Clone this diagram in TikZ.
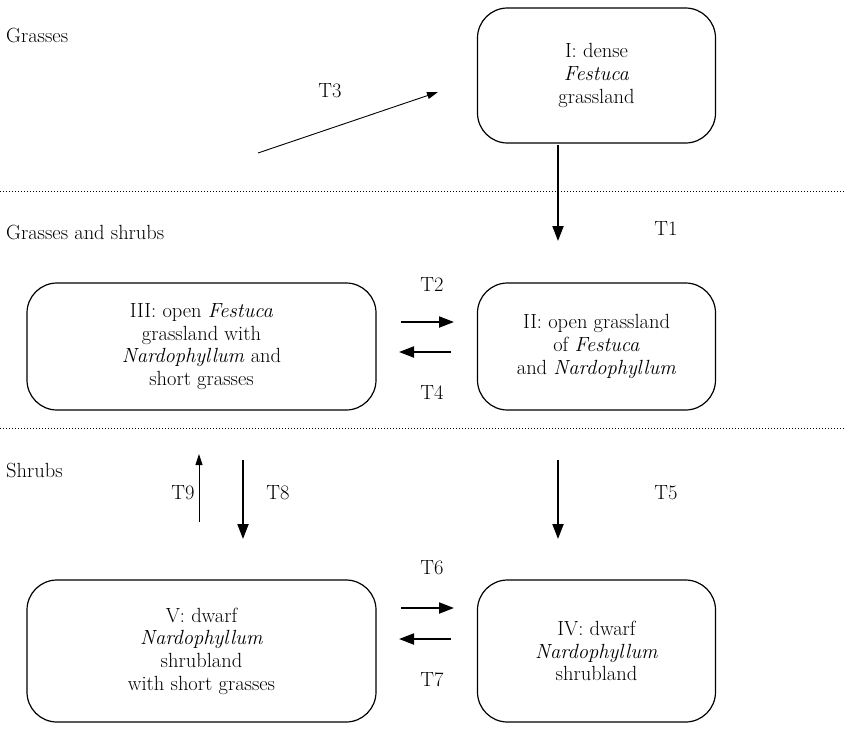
\documentclass[tikz,border=0pt]{standalone}
\usetikzlibrary{arrows.meta}
\begin{document}
\begin{tikzpicture}[x=1pt,y=-1pt,
  every node/.style={font=\fontsize{20.5}{22.6}\selectfont, inner sep=0pt},
  box/.style={draw, line width=1.2pt, rounded corners=30pt, align=center, minimum width=#1},
  thickarr/.style={line width=2pt, -{Triangle[length=15pt,width=11pt]}},
  thinarr/.style={line width=0.9pt, -{Triangle[length=11pt,width=7pt]}},
  sep/.style={dotted, line width=1pt}]
\useasboundingbox (0,0) rectangle (845,734);
% boxes
\node[box=238pt, minimum height=135pt] (I) at (596.5,75.5) {I: dense\\ \textit{Festuca}\\ grassland};
\node[box=349pt, minimum height=127pt] (III) at (201.5,346.5) {III: open \textit{Festuca}\\ grassland with\\ \textit{Nardophyllum} and\\ short grasses};
\node[box=238pt, minimum height=127pt] (II) at (596.5,346.5) {II: open grassland\\ of \textit{Festuca}\\ and \textit{Nardophyllum}};
\node[box=349pt, minimum height=142pt] (V) at (201.5,651) {V: dwarf\\ \textit{Nardophyllum}\\ shrubland\\ with short grasses};
\node[box=238pt, minimum height=142pt] (IV) at (596.5,651) {IV: dwarf\\ \textit{Nardophyllum}\\ shrubland};
% separators
\coordinate (s1l) at (0,191); \coordinate (s1r) at (845,191);
\coordinate (s2l) at (0,428); \coordinate (s2r) at (845,428);
\draw[sep] (s1l) -- (s1r);
\draw[sep] (s2l) -- (s2r);
% zone labels
\node[anchor=west] (g) at (6,35) {Grasses};
\node[anchor=west] (gs) at (6,232) {Grasses and shrubs};
\node[anchor=west] (s) at (6,470) {Shrubs};
% T3
\coordinate (t3a) at (258,153); \coordinate (t3b) at (438,92);
\draw[thinarr] (t3a) -- (t3b);
\node (T3) at (330,91) {T3};
% T1
\coordinate (t1a) at (558,145); \coordinate (t1b) at (558,241);
\draw[thickarr] (t1a) -- (t1b);
\node (T1) at (666,229) {T1};
% T2 / T4
\coordinate (t2a) at (401,322); \coordinate (t2b) at (454,322);
\coordinate (t4a) at (451,352); \coordinate (t4b) at (399,352);
\draw[thickarr] (t2a) -- (t2b);
\draw[thickarr] (t4a) -- (t4b);
\node (T2) at (432,285) {T2};
\node (T4) at (432,393) {T4};
% T9 / T8
\coordinate (t9a) at (199,522); \coordinate (t9b) at (199,454);
\draw[thinarr] (t9a) -- (t9b);
\node (T9) at (183,493) {T9};
\coordinate (t8a) at (243,460); \coordinate (t8b) at (243,539);
\draw[thickarr] (t8a) -- (t8b);
\node (T8) at (278,493) {T8};
% T5
\coordinate (t5a) at (558,460); \coordinate (t5b) at (558,539);
\draw[thickarr] (t5a) -- (t5b);
\node (T5) at (666,493) {T5};
% T6 / T7
\coordinate (t6a) at (401,608); \coordinate (t6b) at (454,608);
\coordinate (t7a) at (451,639); \coordinate (t7b) at (399,639);
\draw[thickarr] (t6a) -- (t6b);
\draw[thickarr] (t7a) -- (t7b);
\node (T6) at (432,568) {T6};
\node (T7) at (432,680) {T7};
\end{tikzpicture}
\end{document}
